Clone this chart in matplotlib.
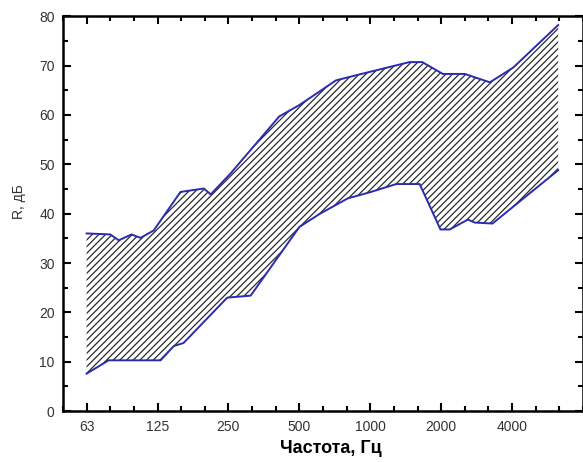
import numpy as np
import matplotlib
matplotlib.use('Agg')
import matplotlib.pyplot as plt
from matplotlib.ticker import MultipleLocator

# third-octave band positions (0 = 63 Hz, 3 = 125 Hz, ...)
upper_x = [0, 1.0, 1.36, 1.9, 2.28, 2.84, 3.97, 4.96, 5.25, 6.1, 8.15, 9.0, 9.84,
           10.55, 11.54, 13.66, 14.2, 15.07, 16.0, 17.06, 18.05, 19.95]
upper_y = [36.0, 35.8, 34.6, 35.8, 35.1, 36.6, 44.4, 45.1, 43.9, 48.2, 59.7, 62.0, 64.7,
           67.0, 68.2, 70.7, 70.7, 68.3, 68.3, 66.6, 69.6, 78.2]

lower_x = [0, 0.93, 3.13, 3.69, 4.1, 5.95, 6.94, 9.0, 9.84, 11.05, 11.96, 13.1,
           14.09, 14.97, 15.36, 16.13, 16.42, 17.17, 19.95]
lower_y = [7.6, 10.3, 10.3, 13.2, 13.8, 23.0, 23.4, 37.3, 39.9, 43.1, 44.3, 46.0,
           46.0, 36.8, 36.8, 38.8, 38.2, 38.0, 48.8]

tick_pos = [0, 3, 6, 9, 12, 15, 18]
tick_labels = ['63', '125', '250', '500', '1000', '2000', '4000']

plt.rcParams['font.family'] = ['Liberation Sans', 'DejaVu Sans']
plt.rcParams['hatch.linewidth'] = 0.9

fig = plt.figure(figsize=(5.83, 4.62), dpi=100)
ax = fig.add_axes([0.108, 0.110, 0.892, 0.855])

# fill between the two curves (common grid from both series)
grid = np.union1d(upper_x, lower_x)
up = np.interp(grid, upper_x, upper_y)
lo = np.interp(grid, lower_x, lower_y)
ax.fill_between(grid, lo, up, facecolor='none', edgecolor='#2a2a2a', hatch='/////', linewidth=0)

ax.plot(upper_x, upper_y, color='#2b2bb0', lw=1.4)
ax.plot(lower_x, lower_y, color='#2b2bb0', lw=1.4)

ax.set_xlim(-1, 21)
ax.set_ylim(0, 80)
ax.set_xticks(tick_pos)
ax.set_xticklabels(tick_labels)
ax.xaxis.set_minor_locator(MultipleLocator(1))
ax.yaxis.set_major_locator(MultipleLocator(10))
ax.yaxis.set_minor_locator(MultipleLocator(5))

ax.tick_params(which='both', direction='in', top=True, right=True, width=1.5,
               labelsize=10, labelcolor='#333333', pad=6)
ax.tick_params(which='major', length=6)
ax.tick_params(which='minor', length=3.5)
for s in ax.spines.values():
    s.set_linewidth(1.8)

ax.set_xlabel('Частота, Гц', fontsize=13, fontweight='heavy')
ax.xaxis.set_label_coords(0.515, -0.073)
ax.set_ylabel('R, дБ', fontsize=10, color='#333333')
ax.yaxis.set_label_coords(-0.072, 0.53)

fig.savefig('out.png', dpi=100)
